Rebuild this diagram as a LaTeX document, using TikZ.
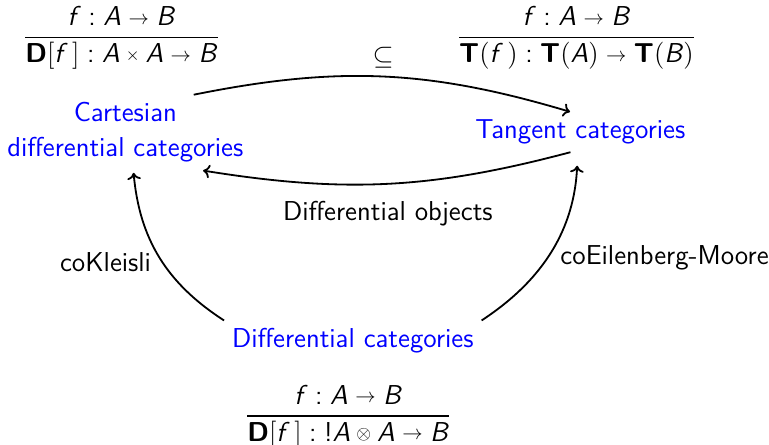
\documentclass[tikz,border=0pt]{standalone}
\usepackage{amsmath}
\renewcommand{\familydefault}{\sfdefault}
\usetikzlibrary{arrows.meta, positioning}
% sans letters and small symbols for the rules
\newcommand{\mv}[1]{\text{\itshape #1\/}}
\newcommand{\mb}[1]{\text{\bfseries #1}}
\newcommand{\arr}{\mathrel{\raisebox{0.8pt}{\scalebox{0.75}{$\rightarrow$}}}}
\newcommand{\cross}{\mathbin{\raisebox{1pt}{\scalebox{0.65}{$\times$}}}}
\newcommand{\tensor}{\mathbin{\raisebox{0.9pt}{\scalebox{0.7}{$\otimes$}}}}
\newcommand{\of}{\mathrel{\text{:}}}
\tikzset{
  category/.style={text=blue, align=center},
  inference/.style={inner sep=2pt},
  arrow/.style={thick, -{To[length=3pt, width=6pt]}}
}

\begin{document}
\begin{tikzpicture}[every node/.style={font=\fontsize{12.1}{15.5}\selectfont}]
  \useasboundingbox (0,0) rectangle (11.966,6.924);

  \node (cart) [category] at (1.95,4.86) {Cartesian\\differential categories};
  \node (tang) [category] at (9.03,4.87) {Tangent categories};
  \node (diff) [category] at (5.49,1.62) {Differential categories};
  \node (cartrule) [inference] at (1.89,6.33) {$\dfrac{\mv{f} \of \mv{A} \arr \mv{B}}{\mb{D}[\mv{f}\,] \of \mv{A} \cross \mv{A} \arr \mv{B}}$};
  \node (tangrule) [inference] at (8.97,6.33) {$\dfrac{\mv{f} \of \mv{A} \arr \mv{B}}{\mb{T}(\mv{f}\,) \of \mb{T}(\mv{A}) \arr \mb{T}(\mv{B})}$};
  \node (diffrule) [inference] at (5.42,0.44) {$\dfrac{\mv{f} \of \mv{A} \arr \mv{B}}{\mb{D}[\mv{f}\,] \of \text{!}\mv{A} \tensor \mv{A} \arr \mv{B}}$};

  \draw [arrow] (cart.29) to[bend left=14] node[above] {$\subseteq$} (tang.117);
  \draw [arrow] (tang.244) to[bend left=12] node[below=4pt] {Differential objects} (cart.334);
  \draw [arrow, shorten >=1pt] (diff.north west) to[bend left=26] node[left, yshift=-2pt] {coKleisli} (cart.282);
  \draw [arrow, shorten >=6pt] (diff.north east) to[bend right=27] node[right, yshift=-4pt] {coEilenberg-Moore} (tang.263);

\end{tikzpicture}
\end{document}
